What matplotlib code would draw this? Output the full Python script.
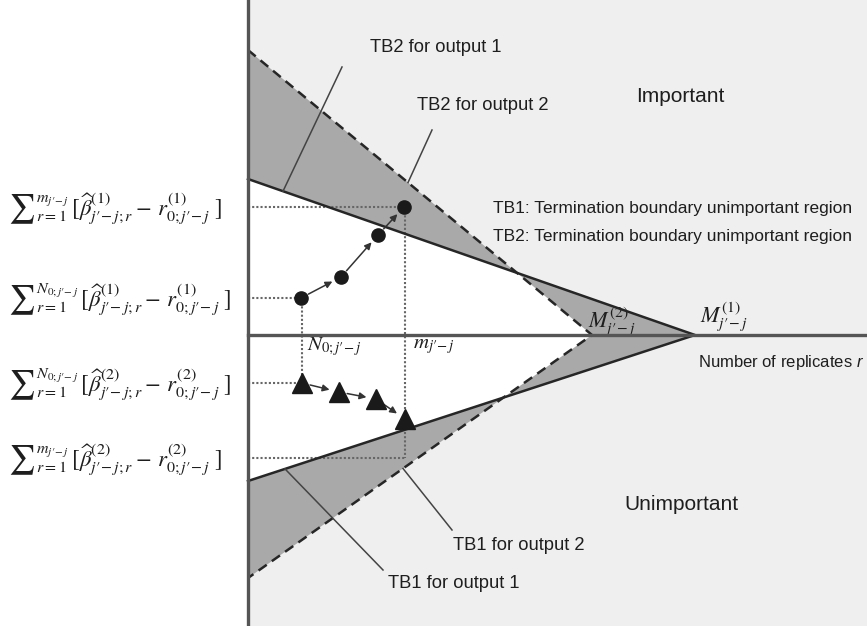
"""Sequential screening diagram: termination boundaries for two outputs."""

import matplotlib
matplotlib.use("Agg")
import matplotlib.pyplot as plt
from matplotlib.patches import Polygon

plt.rcParams["font.family"] = ["Liberation Sans", "DejaVu Sans"]
plt.rcParams["mathtext.fontset"] = "stix"
plt.rcParams["mathtext.it"] = "Liberation Sans:italic"
plt.rcParams["mathtext.rm"] = "Liberation Sans"

# boundary intercepts at r = 0 and apex positions on the r axis
out1_upper = 156      # TB2, output 1 (solid)
out1_lower = -146     # TB1, output 1 (solid)
out1_apex = 447       # M^(1)
out2_upper = 285      # TB2, output 2 (dashed)
out2_lower = -243     # TB1, output 2 (dashed)
out2_apex = 344       # M^(2)

# cumulative sums after each replicate
r_out1 = [53, 93, 130, 156]
sum_out1 = [37, 58, 100, 128]
r_out2 = [54, 91, 128, 157]
sum_out2 = [-48, -57, -64, -84]
n0 = 54
m_stop = 157
sum_out2_at_m = -123

# extent of the drawing
r_min, r_max = -248, 619
s_min, s_max = -291, 335

LIGHT = "#efefef"
MID = "#a9a9a9"
INK = "#262626"


def boundary(r, top, apex):
    return top * (1 - r / apex)


fig = plt.figure(figsize=(8.67, 6.26), dpi=100)
ax = fig.add_axes([0, 0, 1, 1])
ax.set_xlim(r_min, r_max)
ax.set_ylim(s_min, s_max)
ax.axis("off")

# background regions
ax.fill_between([0, r_max], s_min, s_max, color=LIGHT, lw=0, zorder=0)
tri1 = Polygon([(0, out1_upper), (out1_apex, 0), (0, out1_lower)],
               closed=True, fc=MID, ec="none", zorder=1)
tri2 = Polygon([(0, out2_upper), (out2_apex, 0), (0, out2_lower)],
               closed=True, fc=MID, ec="none", zorder=1)
ax.add_patch(tri1)
ax.add_patch(tri2)
inner = Polygon([(0, out2_upper), (out2_apex, 0), (0, out2_lower)],
                closed=True, fc="white", ec="none", zorder=2)
ax.add_patch(inner)
inner.set_clip_path(tri1)

# termination boundaries
ax.plot([0, out1_apex, 0], [out1_upper, 0, out1_lower], color=INK, lw=1.8,
        zorder=4, solid_joinstyle="miter")
ax.plot([0, out2_apex, 0], [out2_upper, 0, out2_lower], color=INK, lw=1.8,
        ls=(0, (4, 2.5)), zorder=4)

# axes
ax.plot([0, 0], [s_min, s_max], color="#555555", lw=2.4, zorder=5)
ax.plot([0, r_max], [0, 0], color="#555555", lw=2.4, zorder=5)

# dotted guides
dot = dict(color="#666666", lw=1.5, ls=(0, (1, 1)), zorder=3)
ax.plot([0, m_stop], [sum_out1[-1]] * 2, **dot)
ax.plot([0, n0], [sum_out1[0]] * 2, **dot)
ax.plot([0, n0], [sum_out2[0]] * 2, **dot)
ax.plot([0, m_stop], [sum_out2_at_m] * 2, **dot)
ax.plot([n0, n0], [sum_out1[0], sum_out2[0]], **dot)
ax.plot([m_stop, m_stop], [sum_out1[-1], sum_out2_at_m], **dot)

# sample paths
ax.plot(r_out1, sum_out1, "o", color="#1a1a1a", ms=9.5, ls="none", zorder=7)
ax.plot(r_out2, sum_out2, "^", color="#1a1a1a", ms=14, ls="none", zorder=7)
for rs, ss in ((r_out1, sum_out1), (r_out2, sum_out2)):
    for i in range(len(rs) - 1):
        ax.annotate("", xy=(rs[i + 1], ss[i + 1]), xytext=(rs[i], ss[i]),
                    arrowprops=dict(arrowstyle="-|>", color="#333333", lw=1.1,
                                    shrinkA=6, shrinkB=7, mutation_scale=10),
                    zorder=6)

# leader lines to boundaries
leaders = [
    ((94, 268), 35, out1_upper, out1_apex),
    ((184, 205), 160, out2_upper, out2_apex),
    ((135, -235), 37, out1_lower, out1_apex),
    ((204, -195), 155, out2_lower, out2_apex),
]
for (tx, ty), r_hit, top, apex in leaders:
    ax.plot([tx, r_hit], [ty, boundary(r_hit, top, apex)], color="#444444",
            lw=1.1, zorder=4)

txt = dict(fontsize=13.2, color="#1e1e1e", va="center", ha="left")
ax.text(122, 287, "TB2 for output 1", **txt)
ax.text(169, 230, "TB2 for output 2", **txt)
ax.text(140, -248, "TB1 for output 1", **txt)
ax.text(205, -210, "TB1 for output 2", **txt)
ax.text(388, 238, "Important", fontsize=15, color="#1e1e1e", va="center")
ax.text(376, -170, "Unimportant", fontsize=15, color="#1e1e1e", va="center")
ax.text(245, 127, "TB1: Termination boundary unimportant region",
        fontsize=12.5, color="#1e1e1e", va="center")
ax.text(245, 98, "TB2: Termination boundary unimportant region",
        fontsize=12.5, color="#1e1e1e", va="center")
ax.text(450, -28, "Number of replicates $r$", fontsize=12, color="#1e1e1e",
        va="center", ha="left", math_fontfamily="custom")

math = dict(fontsize=16, color="#1e1e1e", va="center", ha="left")
ax.text(340, 13, r"$M^{(2)}_{j\prime\!-j}$", **math)
ax.text(452, 18, r"$M^{(1)}_{j\prime\!-j}$", **math)
ax.text(59, -12, r"$N_{0;j\prime\!-j}$", fontsize=15, color="#1e1e1e",
        va="center")
ax.text(165, -12, r"$m_{j\prime\!-j}$", fontsize=15, color="#1e1e1e",
        va="center")

# cumulative-sum labels on the left, one per dotted guide
sums = [
    (sum_out1[-1], r"m_{j\prime\!-j}", 1),
    (sum_out1[0], r"N_{0;j\prime\!-j}", 1),
    (sum_out2[0], r"N_{0;j\prime\!-j}", 2),
    (sum_out2_at_m, r"m_{j\prime\!-j}", 2),
]
for level, upper, k in sums:
    sigma = ax.text(-240, level - 2, r"$\sum$", fontsize=21, color="#1e1e1e",
                    va="center", ha="left")
    body = (r"${}_{r=1}^{" + upper + r"}\,[\widehat{\beta}^{(%d)}_{j\prime\!-j;r}"
            r" - \,r^{(%d)}_{0;j\prime\!-j}\ ]$" % (k, k))
    ax.annotate(body, xy=(1.0, 0.5), xycoords=sigma, xytext=(1, 1),
                textcoords="offset points", fontsize=16.5, color="#1e1e1e",
                va="center", ha="left")

fig.savefig("out.png", dpi=100, facecolor="white")
